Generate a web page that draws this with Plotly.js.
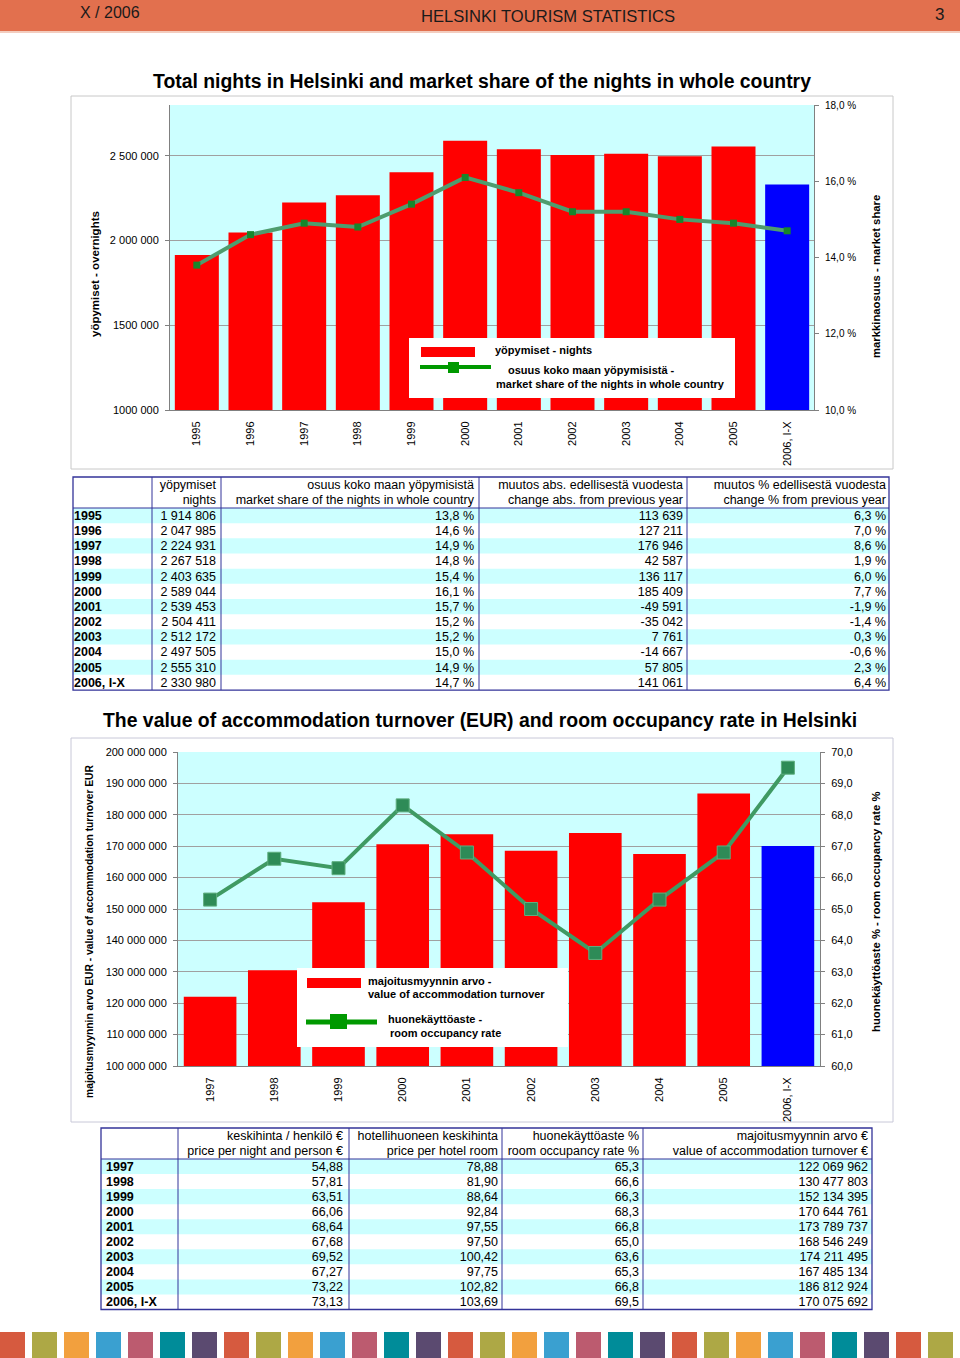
<!DOCTYPE html>
<html><head><meta charset="utf-8">
<script src="https://cdn.plot.ly/plotly-3.0.1.min.js"></script>
<style>html,body{margin:0;padding:0;background:#fff}#g{width:960px;height:1358px}</style>
</head><body><div id="g"></div>
<script>
// ---------- DATA ----------
const years1 = ['1995','1996','1997','1998','1999','2000','2001','2002','2003','2004','2005','2006, I-X'];
const nights = [1914806,2047985,2224931,2267518,2403635,2589044,2539453,2504411,2512172,2497505,2555310,2330980];
const marketShare = [13.8,14.6,14.9,14.8,15.4,16.1,15.7,15.2,15.2,15.0,14.9,14.7];
const changeAbs = [113639,127211,176946,42587,136117,185409,-49591,-35042,7761,-14667,57805,141061];
const changePct = [6.3,7.0,8.6,1.9,6.0,7.7,-1.9,-1.4,0.3,-0.6,2.3,6.4];

const years2 = ['1997','1998','1999','2000','2001','2002','2003','2004','2005','2006, I-X'];
const pricePerson = [54.88,57.81,63.51,66.06,68.64,67.68,69.52,67.27,73.22,73.13];
const priceRoom = [78.88,81.90,88.64,92.84,97.55,97.50,100.42,97.75,102.82,103.69];
const occupancy = [65.3,66.6,66.3,68.3,66.8,65.0,63.6,65.3,66.8,69.5];
const turnover = [122069962,130477803,152134395,170644761,173789737,168546249,174211495,167485134,186812924,170075692];

const y1TickVals = [1000000,1500000,2000000,2500000];
const y1TickText = ['1000 000','1500 000','2 000 000','2 500 000'];
const y2TickVals = [10,12,14,16,18];
const y2TickText = ['10,0 %','12,0 %','14,0 %','16,0 %','18,0 %'];
const y3TickVals = [100e6,110e6,120e6,130e6,140e6,150e6,160e6,170e6,180e6,190e6,200e6];
const y3TickText = ['100 000 000','110 000 000','120 000 000','130 000 000','140 000 000','150 000 000','160 000 000','170 000 000','180 000 000','190 000 000','200 000 000'];
const y4TickVals = [60,61,62,63,64,65,66,67,68,69,70];
const y4TickText = ['60,0','61,0','62,0','63,0','64,0','65,0','66,0','67,0','68,0','69,0','70,0'];

const header1 = [['',''],['yöpymiset','nights'],['osuus koko maan yöpymisistä','market share of the nights in whole country'],['muutos abs. edellisestä vuodesta','change abs. from previous year'],['muutos % edellisestä vuodesta','change % from previous year']];
const header2 = [['',''],['keskihinta / henkilö €','price per night and person €'],['hotellihuoneen keskihinta','price per hotel room'],['huonekäyttöaste %','room occupancy rate %'],['majoitusmyynnin arvo €','value of accommodation turnover €']];

// ---------- HELPERS ----------
const W = 960, H = 1358;
const px = x => x / W, py = y => 1 - y / H;
const NB = '\u00A0';
const FF = 'Liberation Sans, Arial, Helvetica, sans-serif';
const nb = s => s.replace(/ /g, NB);
const fmtInt = n => { const s = Math.abs(n).toString().replace(/\B(?=(\d{3})+(?!\d))/g, NB); return (n < 0 ? '-' : '') + s; };
const fmtDec = (n, d) => n.toFixed(d).replace('.', ',');
const fmtPct = n => fmtDec(n, 1) + NB + '%';

const RED = '#FF0000', BLUE = '#0000FF', CYAN = '#CCFFFF', BORDER = '#333399';

const shapes = [];
const annotations = [];
function rect(x0, y0, x1, y1, fill, lineColor, lw, layer) {
  shapes.push({type:'rect', xref:'paper', yref:'paper', x0:px(x0), x1:px(x1), y0:py(y1), y1:py(y0),
    fillcolor: fill || 'rgba(0,0,0,0)', line:{color: lineColor || 'rgba(0,0,0,0)', width: lw || 0}, layer: layer || 'below'});
}
function hline(x0, x1, y, color, w, layer) {
  shapes.push({type:'line', xref:'paper', yref:'paper', x0:px(x0), x1:px(x1), y0:py(y), y1:py(y), line:{color, width:w}, layer: layer || 'below'});
}
function vline(x, y0, y1, color, w, layer) {
  shapes.push({type:'line', xref:'paper', yref:'paper', x0:px(x), x1:px(x), y0:py(y0), y1:py(y1), line:{color, width:w}, layer: layer || 'below'});
}
function text(x, y, t, size, o) {
  o = o || {};
  annotations.push(Object.assign({xref:'paper', yref:'paper', x:px(x), y:py(y), text:t, showarrow:false,
    xanchor:'left', yanchor:'middle', font:{family:FF, size:size, color:'#000'}}, o));
}

// ---------- PAGE DECORATION ----------
rect(0, 0, 960, 31, '#E2704E');
rect(0, 31, 960, 33, '#F3CDBF');
text(78, 13, 'X / 2006', 16, {font:{family:FF, size:16, color:'#1a1a1a'}});
text(548, 17, 'HELSINKI TOURISM STATISTICS', 16.6, {xanchor:'center', font:{family:FF, size:16.6, color:'#1a1a1a'}});
text(946, 15, '3', 17, {xanchor:'right', font:{family:FF, size:17, color:'#1a1a1a'}});

const palette = ['#D65A3F','#ADA845','#F2A03E','#3AA0D0','#BC5B6F','#008C99','#5B4A70'];
for (let i = 0; i < 30; i++) rect(i*32, 1332, i*32+25, 1358, palette[i % 7]);

// ---------- CHART 1 ----------
rect(71, 96, 893, 469, null, '#C8C8C8', 1);
text(482, 81, '<b>Total nights in Helsinki and market share of the nights in whole country</b>', 19.4, {xanchor:'center'});
text(95, 274, '<b>yöpymiset - overnights</b>', 11.5, {xanchor:'center', textangle:-90});
text(876, 277, '<b>markkinaosuus - market share</b>', 11.3, {xanchor:'center', textangle:-90});
// legend 1
rect(409, 338, 735, 398, '#FFFFFF', null, 0, 'above');
rect(421, 347, 475, 357, RED, null, 0, 'above');
hline(420, 491, 367, '#009900', 4, 'above');
rect(448, 362, 459, 373, '#009900', null, 0, 'above');
text(493, 350, '<b>yöpymiset - nights</b>', 11);
text(506, 370, '<b>osuus koko maan yöpymisistä -</b>', 11);
text(494, 384, '<b>market share of the nights in whole country</b>', 11);

// ---------- CHART 2 ----------
rect(71, 738, 893, 1122, null, '#C8C8D8', 1);
text(480, 720, '<b>The value of accommodation turnover (EUR) and room occupancy rate in Helsinki</b>', 19.4, {xanchor:'center'});
text(89, 931, '<b>majoitusmyynnin arvo EUR - value of accommodation turnover EUR</b>', 10.3, {xanchor:'center', textangle:-90});
text(876, 912, '<b>huonekäyttöaste % - room occupancy rate %</b>', 11.3, {xanchor:'center', textangle:-90});
// legend 2
rect(297, 968, 568, 1047, '#FFFFFF', null, 0, 'above');
rect(307, 978, 361, 988, RED, null, 0, 'above');
hline(306, 377, 1022, '#009900', 5, 'above');
rect(330, 1014, 347, 1029, '#009900', null, 0, 'above');
text(366, 981, '<b>majoitusmyynnin arvo -</b>', 11);
text(366, 994, '<b>value of accommodation turnover</b>', 11);
text(386, 1019, '<b>huonekäyttöaste -</b>', 11);
text(388, 1033, '<b>room occupancy rate</b>', 11);

// ---------- TABLE GEOMETRY ----------
const SHIFT = 5.5;
function tableFrame(left, right, top, hh, rh, nrows, vlines) {
  for (let i = 0; i < nrows; i++) {
    if (i % 2 === 0) rect(left, top + 2*hh + i*rh, right, top + 2*hh + (i+1)*rh, CYAN);
  }
  const bottom = top + 2*hh + nrows*rh;
  hline(left, right, top + 2*hh, BORDER, 1);
  vlines.forEach(x => vline(x, top, bottom, BORDER, 1));
  rect(left, top, right, bottom, null, BORDER, 1.3);
  return bottom;
}
const T1 = {left:73, right:889, top:477, hh:15.5, rh:15.17};
const T2 = {left:101, right:872, top:1128, hh:15.5, rh:15.05};
tableFrame(T1.left, T1.right, T1.top, T1.hh, T1.rh, years1.length, [152, 221, 479, 687]);
tableFrame(T2.left, T2.right, T2.top, T2.hh, T2.rh, years2.length, [178, 349, 502, 643]);

const tcols1 = [66, 150, 224, 482, 691, 894];
const tcols2 = [98, 175, 351, 506, 647, 876];
const widths = e => e.slice(1).map((v, i) => v - e[i]);

function tableTrace(cols, T, header, cells) {
  const h = 2*T.hh + cells[0].length*T.rh + 6;
  return {
    type:'table',
    domain:{x:[px(cols[0]), px(cols[cols.length-1])], y:[py(T.top - SHIFT + h), py(T.top - SHIFT)]},
    columnwidth: widths(cols),
    header:{values: header.map(c => c.map(nb)), height:T.hh, align:['left','right','right','right','right'],
      fill:{color:'rgba(0,0,0,0)'}, line:{width:0, color:'rgba(0,0,0,0)'},
      font:{family:FF, size:12.5, color:'#000'}},
    cells:{values: cells, height:T.rh, align:['left','right','right','right','right'],
      fill:{color:'rgba(0,0,0,0)'}, line:{width:0, color:'rgba(0,0,0,0)'},
      font:{family:FF, size:12.5, color:'#000', weight:['bold','normal','normal','normal','normal']}},
    hoverinfo:'skip'
  };
}

const table1 = tableTrace(tcols1, T1, header1, [
  years1.map(nb), nights.map(fmtInt), marketShare.map(fmtPct), changeAbs.map(fmtInt), changePct.map(fmtPct)
]);
const table2 = tableTrace(tcols2, T2, header2, [
  years2.map(nb), pricePerson.map(v => fmtDec(v, 2)), priceRoom.map(v => fmtDec(v, 2)), occupancy.map(v => fmtDec(v, 1)), turnover.map(fmtInt)
]);

// ---------- TRACES ----------
const lastBlue = arr => arr.map((_, i) => i === arr.length - 1 ? BLUE : RED);
const traces = [
  {type:'bar', x:years1, y:nights, xaxis:'x', yaxis:'y', marker:{color:lastBlue(years1), line:{width:0}}, hoverinfo:'skip'},
  {type:'scatter', mode:'lines+markers', x:years1, y:marketShare, xaxis:'x', yaxis:'y2',
    line:{color:'#4E9D6E', width:4}, marker:{symbol:'square', size:7, color:'#17862B'}, hoverinfo:'skip'},
  {type:'bar', x:years2, y:turnover, xaxis:'x2', yaxis:'y3', marker:{color:lastBlue(years2), line:{width:0}}, hoverinfo:'skip'},
  {type:'scatter', mode:'lines+markers', x:years2, y:occupancy, xaxis:'x2', yaxis:'y4',
    line:{color:'#3F9A63', width:4}, marker:{symbol:'square', size:13, color:'#2E8B57', line:{color:'#5FAE7F', width:1}}, hoverinfo:'skip'},
  table1, table2
];

const tickfont = {family:FF, size:11, color:'#000'};
const axCommon = {showline:true, linecolor:'#808080', linewidth:1, zeroline:false, fixedrange:true};
const layout = {
  width:W, height:H, margin:{l:0, r:0, t:0, b:0}, paper_bgcolor:'#FFFFFF', plot_bgcolor:CYAN,
  showlegend:false, bargap:0.18, font:{family:FF},
  xaxis: Object.assign({}, axCommon, {domain:[px(170), px(814)], anchor:'y', type:'category', range:[-0.5, years1.length - 0.5],
    tickangle:-90, tickfont, ticks:'', ticklabelstandoff:6}),
  yaxis: Object.assign({}, axCommon, {domain:[py(410), py(105)], range:[1000000, 2800000], tickvals:y1TickVals, ticktext:y1TickText,
    tickfont, ticks:'outside', ticklen:4, tickcolor:'#808080', showgrid:true, gridcolor:'#A0A0A0', ticklabelstandoff:4}),
  yaxis2: Object.assign({}, axCommon, {overlaying:'y', side:'right', anchor:'x', range:[10, 18], tickvals:y2TickVals, ticktext:y2TickText,
    tickfont:{family:FF, size:10, color:'#000'}, ticks:'outside', ticklen:4, tickcolor:'#808080', showgrid:false, ticklabelstandoff:4}),
  xaxis2: Object.assign({}, axCommon, {domain:[px(178), px(820)], anchor:'y3', type:'category', range:[-0.5, years2.length - 0.5],
    tickangle:-90, tickfont, ticks:'', ticklabelstandoff:6}),
  yaxis3: Object.assign({}, axCommon, {domain:[py(1066), py(752)], anchor:'x2', range:[100e6, 200e6], tickvals:y3TickVals, ticktext:y3TickText,
    tickfont, ticks:'outside', ticklen:4, tickcolor:'#808080', showgrid:true, gridcolor:'#A0A0A0', ticklabelstandoff:4}),
  yaxis4: Object.assign({}, axCommon, {overlaying:'y3', side:'right', anchor:'x2', range:[60, 70], tickvals:y4TickVals, ticktext:y4TickText,
    tickfont, ticks:'outside', ticklen:4, tickcolor:'#808080', showgrid:false, ticklabelstandoff:4}),
  shapes, annotations
};
Plotly.newPlot('g', traces, layout, {staticPlot:true, displayModeBar:false});
</script></body></html>
